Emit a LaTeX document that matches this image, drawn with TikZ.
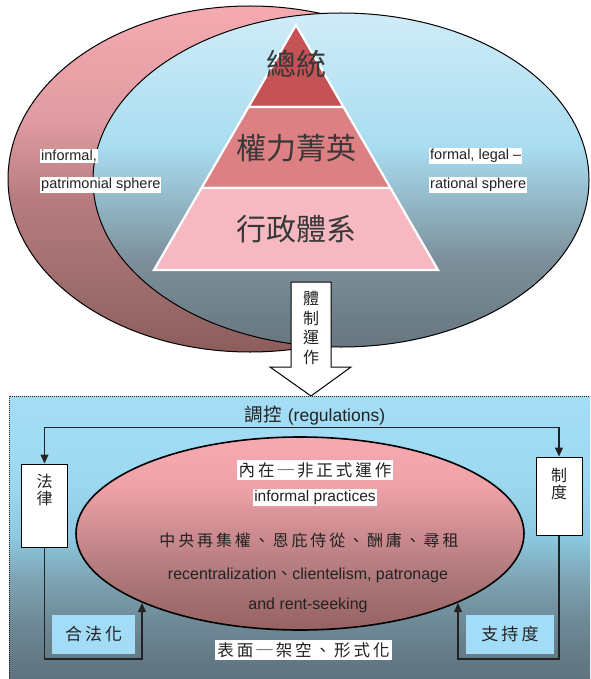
\documentclass[tikz,border=0pt]{standalone}
\usepackage{fontspec}
\setmainfont{Liberation Sans}
\newfontfamily\cjk{Noto Sans CJK TC}
\newfontfamily\cjkw[LetterSpace=18]{Noto Sans CJK TC}
\usetikzlibrary{shapes.geometric,arrows.meta}

\definecolor{pk1}{HTML}{F5AAB0}
\definecolor{pk2}{HTML}{DF9CA2}
\definecolor{pk3}{HTML}{B77C80}
\definecolor{pk4}{HTML}{9A6A6B}
\definecolor{pk5}{HTML}{8D5D5C}
\definecolor{bl1}{HTML}{CFECF8}
\definecolor{bl2}{HTML}{A9DCF0}
\definecolor{bl3}{HTML}{93B9C8}
\definecolor{bl4}{HTML}{7C8F9A}
\definecolor{bl5}{HTML}{67767F}
\definecolor{bx1}{HTML}{A5DDF6}
\definecolor{bx2}{HTML}{9DD8F1}
\definecolor{bx3}{HTML}{8CC8DF}
\definecolor{bx4}{HTML}{7DA3B2}
\definecolor{bx5}{HTML}{6E8996}
\definecolor{bx6}{HTML}{5E717E}
\definecolor{in1}{HTML}{F6A9B0}
\definecolor{in2}{HTML}{F0A2A9}
\definecolor{in3}{HTML}{CC8B90}
\definecolor{in4}{HTML}{AC7678}
\definecolor{in5}{HTML}{976262}
\definecolor{tierA}{HTML}{C55255}
\definecolor{tierB}{HTML}{DC8084}
\definecolor{tierC}{HTML}{F6B9C1}
\definecolor{tagblue}{HTML}{A2DCF6}
\definecolor{ink}{HTML}{222222}

\pgfdeclareverticalshading{pinkell}{100bp}{color(0bp)=(pk5); color(25bp)=(pk5); color(32.5bp)=(pk4); color(47bp)=(pk3); color(58.5bp)=(pk2); color(75bp)=(pk1); color(100bp)=(pk1)}
\pgfdeclareverticalshading{blueell}{100bp}{color(0bp)=(bl5); color(25bp)=(bl5); color(38bp)=(bl4); color(47bp)=(bl3); color(55bp)=(bl2); color(75bp)=(bl1); color(100bp)=(bl1)}
\pgfdeclareverticalshading{boxshade}{100bp}{color(0bp)=(bx6); color(25bp)=(bx6); color(35bp)=(bx5); color(42.5bp)=(bx4); color(50bp)=(bx3); color(60bp)=(bx2); color(75bp)=(bx1); color(100bp)=(bx1)}
\pgfdeclareverticalshading{innerell}{100bp}{color(0bp)=(in5); color(25bp)=(in5); color(37.5bp)=(in4); color(50bp)=(in3); color(62.5bp)=(in2); color(75bp)=(in1); color(100bp)=(in1)}

\tikzset{
  sphere/.style={ellipse, draw=black, line width=1pt, inner sep=0pt},
  lbl/.style={fill=white, inner sep=1pt, text=ink, font=\fontsize{14.5}{17}\selectfont},
  tiertxt/.style={text=black!78, inner sep=0pt, font=\cjk\fontsize{30}{32}\selectfont},
  sidebox/.style={draw=black, fill=white, line width=1pt, inner sep=0pt},
  vtxt/.style={align=center, inner sep=0pt, text=ink, font=\cjk\fontsize{16}{17}\selectfont},
  tagbox/.style={fill=tagblue, inner sep=0pt, text=ink, font=\cjkw\fontsize{17}{19}\selectfont},
  conn/.style={draw=ink, line width=1.1pt},
  tip/.style={-{Triangle[width=8pt,length=9pt]}},
  wbox/.style={fill=white, inner sep=2pt, text=ink},
}

\begin{document}
\begin{tikzpicture}[x=1pt,y=-1pt]
\useasboundingbox (0,0) rectangle (590,679);

% spheres
\node[sphere, shading=pinkell, minimum width=484pt, minimum height=346pt] (patr) at (250,179) {};
\node[sphere, shading=blueell, minimum width=496pt, minimum height=334pt] (legal) at (341,180) {};

% pyramid
\fill[tierA, draw=white, line width=2.2pt] (296,25) -- (343.5,107) -- (248.5,107) -- cycle;
\fill[tierB, draw=white, line width=2.2pt] (248.5,107) -- (343.5,107) -- (390.5,188) -- (201.5,188) -- cycle;
\fill[tierC, draw=white, line width=2.2pt] (201.5,188) -- (390.5,188) -- (438,270) -- (154,270) -- cycle;
\node[tiertxt] (pres) at (296,64) {總統};
\node[tiertxt] (elite) at (296,148) {權力菁英};
\node[tiertxt] (admin) at (296,229) {行政體系};

% sphere labels
\node[lbl, anchor=west] (inf1) at (40,156) {informal,};
\node[lbl, anchor=west] (inf2) at (40,185) {patrimonial sphere};
\node[lbl, anchor=west] (for1) at (429,156) {formal, legal –};
\node[lbl, anchor=west] (for2) at (429,185) {rational sphere};

% down arrow
\draw[fill=white, line width=1pt] (291,282) -- (331,282) -- (331,367) -- (351,367) -- (311,396) -- (270,367) -- (291,367) -- cycle;
\node[align=center, inner sep=0pt, text=ink, font=\cjk\fontsize{16}{19.5}\selectfont] (oper) at (311,328) {體\\制\\運\\作};

% lower panel
\fill[shading=boxshade] (9,396) rectangle (590,679);
\draw[ink, line width=1pt, dash pattern=on 1pt off 1pt] (9,679) -- (9,396) -- (590,396);

\node[text=ink, inner sep=0pt, font=\fontsize{17.5}{20}\selectfont] (reg) at (315,416) {{\cjk\fontsize{18.5}{20}\selectfont 調控}\hspace{6pt}(regulations)};

\node[sphere, line width=1.6pt, shading=innerell, minimum width=448pt, minimum height=193pt] (core) at (300,533.5) {};

\node[sidebox, minimum width=46pt, minimum height=83pt] (law) at (44.5,505.5) {};
\node[vtxt] (lawt) at (44.5,490) {法\\律};
\node[sidebox, minimum width=46pt, minimum height=78pt] (inst) at (559,496) {};
\node[vtxt] (instt) at (559,484) {制\\度};

\node[tagbox, minimum width=83pt, minimum height=39pt] (legit) at (93.7,634.5) {合法化};
\node[tagbox, minimum width=87.5pt, minimum height=39pt] (supp) at (510,634.5) {支持度};

\coordinate (legC) at (142,659);
\coordinate (legIn) at (142,603);
\coordinate (supC) at (458,659);
\coordinate (supIn) at (458,603);

\draw[conn, {Triangle[width=8pt,length=9pt]}-{Triangle[width=8pt,length=9pt]}] (law.north) -- ++(0,-36) -| (inst.north);
\draw[conn, tip] (law.south) |- (legC) -- (legIn);
\draw[conn, tip] (inst.south) |- (supC) -- (supIn);

\node[wbox, font=\cjkw\fontsize{16.5}{19}\selectfont] (inner) at (315,470) {內在─非正式運作};
\node[wbox, inner sep=1.5pt, font=\fontsize{15.5}{18}\selectfont] (infp) at (315,497.5) {informal practices};
\node[inner sep=0pt, text=ink, font=\cjkw\fontsize{16}{18}\selectfont] (zh) at (309,540) {中央再集權、恩庇侍從、酬庸、尋租};
\node[inner sep=0pt, text=ink, font=\fontsize{16}{18}\selectfont] (en1) at (308,575) {recentralization{\cjk 、}clientelism, patronage};
\node[inner sep=0pt, text=ink, font=\fontsize{16}{18}\selectfont] (en2) at (308,605) {and rent-seeking};
\node[wbox, font=\cjkw\fontsize{16.5}{19}\selectfont] (surf) at (303.5,650) {表面─架空、形式化};
\end{tikzpicture}
\end{document}
